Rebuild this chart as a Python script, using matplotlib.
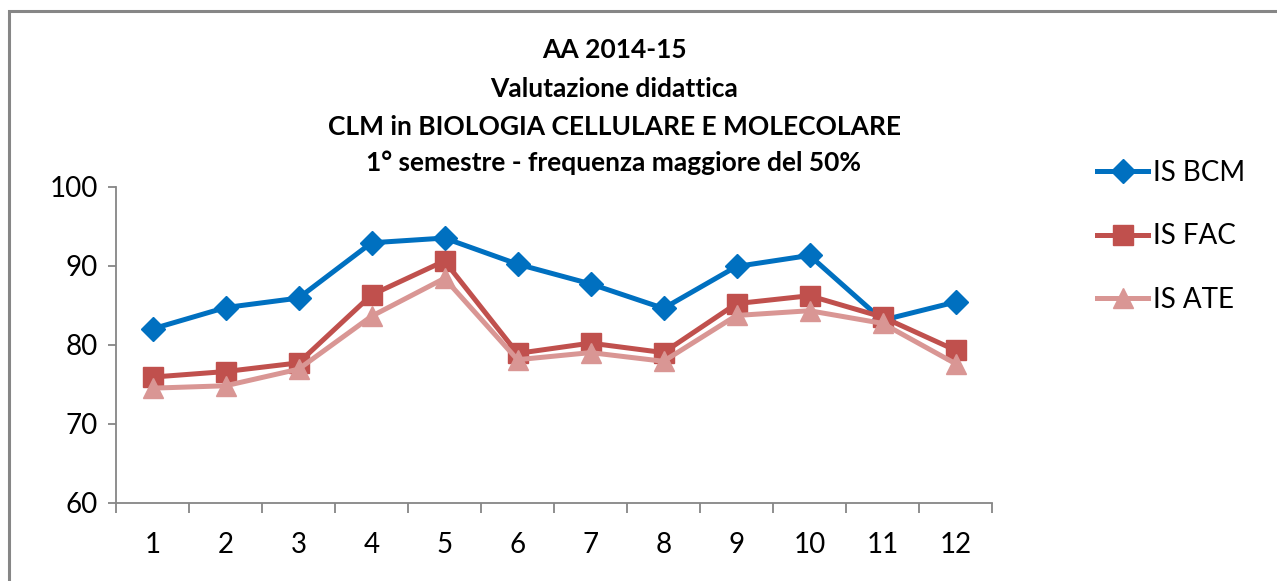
import matplotlib
matplotlib.use("Agg")
import matplotlib.pyplot as plt
from matplotlib.patches import Rectangle

categories = [1, 2, 3, 4, 5, 6, 7, 8, 9, 10, 11, 12]
is_bcm = [82.0, 84.7, 85.9, 92.9, 93.5, 90.2, 87.7, 84.6, 89.9, 91.3, 83.1, 85.4]
is_fac = [75.9, 76.6, 77.7, 86.3, 90.6, 78.9, 80.2, 79.0, 85.2, 86.2, 83.5, 79.3]
is_ate = [74.5, 74.8, 76.9, 83.6, 88.4, 78.1, 79.0, 77.9, 83.7, 84.3, 82.7, 77.6]
series_names = ["IS BCM", "IS FAC", "IS ATE"]
title_lines = ["AA 2014-15", "Valutazione didattica",
               "CLM in BIOLOGIA CELLULARE E MOLECOLARE",
               "1° semestre - frequenza maggiore del 50%"]
y_ticks = [60, 70, 80, 90, 100]

plt.rcParams['font.family'] = ['Lato', 'DejaVu Sans']

W, H = 1277, 581
fig = plt.figure(figsize=(W / 100, H / 100), dpi=100)
fig.patch.set_facecolor("white")

# outer chart frame
fig.patches.append(Rectangle((9 / W, -0.05), 1.2, 1 - 11 / H + 0.05,
                             transform=fig.transFigure, fill=False,
                             edgecolor="#868686", linewidth=2.2))

left, right, top, bottom = 116, 992, 186.7, 502.7
ax = fig.add_axes([left / W, 1 - bottom / H, (right - left) / W, (bottom - top) / H])

x = categories
ax.plot(x, is_bcm, color="#0070C0", lw=3.6, marker="D", ms=12, label=series_names[0])
ax.plot(x, is_fac, color="#C0504D", lw=3.6, marker="s", ms=14, label=series_names[1])
ax.plot(x, is_ate, color="#D99694", lw=3.6, marker="^", ms=15, label=series_names[2])

ax.set_xlim(0.5, 12.5)
ax.set_ylim(60, 100)
ax.set_yticks(y_ticks)
ax.set_yticklabels([str(v) for v in y_ticks])
ax.set_xticks([c + 0.5 for c in [0] + categories])
ax.set_xticklabels([])
ax.set_xticks(categories, minor=True)
ax.set_xticklabels([str(c) for c in categories], minor=True)

for s in ["top", "right"]:
    ax.spines[s].set_visible(False)
for s in ["left", "bottom"]:
    ax.spines[s].set_color("#868686")
    ax.spines[s].set_linewidth(1.3)

ax.tick_params(axis="y", which="major", direction="out", length=6, width=1.3,
               color="#868686", labelsize=20, pad=7, labelcolor="#000000")
ax.tick_params(axis="x", which="major", direction="out", length=7, width=1.3,
               color="#868686")
ax.tick_params(axis="x", which="minor", length=0, labelsize=20, pad=21,
               labelcolor="#000000")

ys = [50, 89, 127, 163]
for t, yy in zip(title_lines, ys):
    fig.text(614 / W, 1 - yy / H, t, ha="center", va="center",
             fontsize=19, fontweight="bold", color="#000000")

leg = fig.legend(loc="upper left", bbox_to_anchor=(1097 / W, 1 - 160 / H),
                 frameon=False, fontsize=20, handlelength=1.85, handletextpad=0.15,
                 labelspacing=1.35, borderaxespad=0, borderpad=0)

fig.savefig("out.png", dpi=100, facecolor="white")
